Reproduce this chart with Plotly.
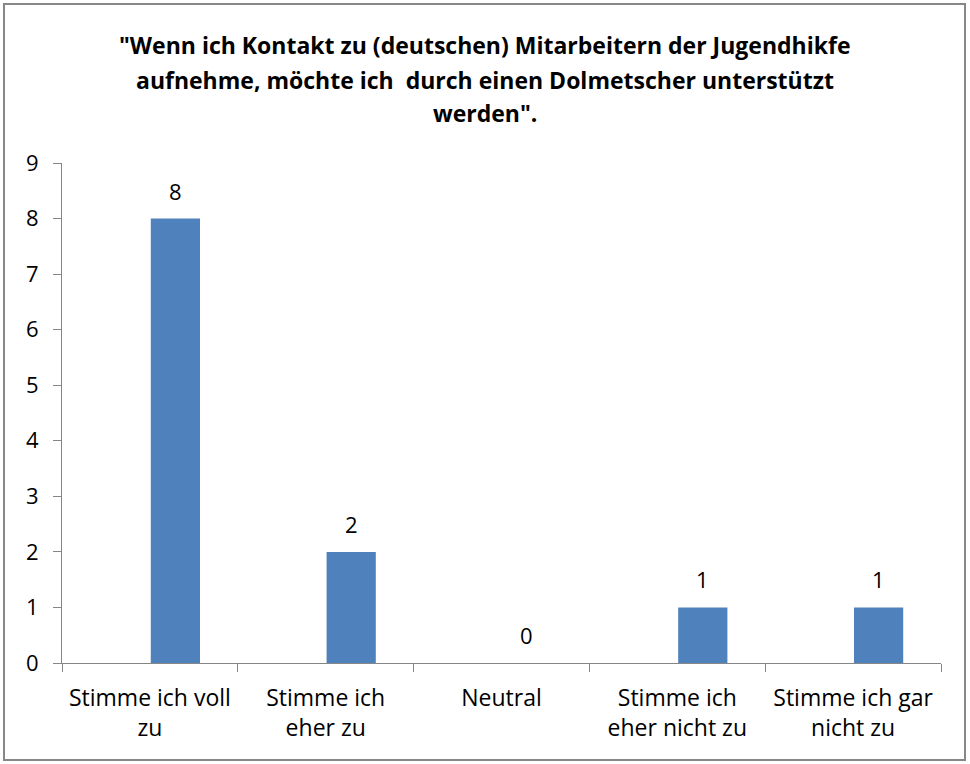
import plotly.graph_objects as go

categories = ["Stimme ich voll<br>zu", "Stimme ich<br>eher zu", "Neutral",
              "Stimme ich<br>eher nicht zu", "Stimme ich gar<br>nicht zu"]
values = [8, 2, 0, 1, 1]
y_ticks = [0, 1, 2, 3, 4, 5, 6, 7, 8, 9]
title_lines = ['"Wenn ich Kontakt zu (deutschen) Mitarbeitern der Jugendhikfe',
               'aufnehme, möchte ich  durch einen Dolmetscher unterstützt',
               'werden".']

FONT = "Open Sans"
AXIS_COLOR = "#868686"
BAR_W = 0.28
BAR_OFFSET = 0.005

fig = go.Figure()
fig.add_trace(go.Bar(
    x=categories, y=values,
    marker=dict(color="#4F81BD", line=dict(width=0)),
    width=BAR_W, offset=BAR_OFFSET,
    hoverinfo="skip",
))

for i, v in enumerate(values):
    fig.add_annotation(x=i + BAR_OFFSET + BAR_W / 2, y=v, text=str(v),
                       showarrow=False, yanchor="bottom", yshift=11,
                       font=dict(family=FONT, size=22, color="#000000"))

L, R, T, B = 62, 29, 163, 101
W, H = 970, 764
pw, ph = W - L - R, H - T - B

def px_to_paper_x(px):
    return (px - L) / pw

def px_to_paper_y(py):
    return (H - B - py) / ph

title_centers = [45, 80, 113]
for line, cy in zip(title_lines, title_centers):
    fig.add_annotation(x=px_to_paper_x(485), y=px_to_paper_y(cy),
                       xref="paper", yref="paper", text="<b>" + line + "</b>",
                       showarrow=False, xanchor="center", yanchor="middle",
                       font=dict(family=FONT, size=23, color="#000000"))

fig.add_shape(type="rect", xref="paper", yref="paper",
              x0=px_to_paper_x(4), x1=px_to_paper_x(965),
              y0=px_to_paper_y(760), y1=px_to_paper_y(4),
              line=dict(color="#878787", width=2), layer="below")

fig.update_layout(
    width=W, height=H,
    margin=dict(l=L, r=R, t=T, b=B),
    paper_bgcolor="white", plot_bgcolor="white",
    showlegend=False,
)
fig.update_xaxes(
    type="category", tickson="boundaries", ticks="outside", ticklen=8,
    tickcolor=AXIS_COLOR, showline=True, linecolor=AXIS_COLOR, linewidth=1,
    showgrid=False, ticklabelstandoff=14,
    tickfont=dict(family=FONT, size=23, color="#000000"),
)
fig.update_yaxes(
    range=[0, 9], tickvals=y_ticks, ticks="outside", ticklen=8,
    tickcolor=AXIS_COLOR, showline=True, linecolor=AXIS_COLOR, linewidth=1,
    showgrid=False, zeroline=False, ticklabelstandoff=10,
    tickfont=dict(family=FONT, size=22, color="#000000"),
)

fig.write_html("out.html", config={"displayModeBar": False},
               post_script="document.body.style.margin='0';")
